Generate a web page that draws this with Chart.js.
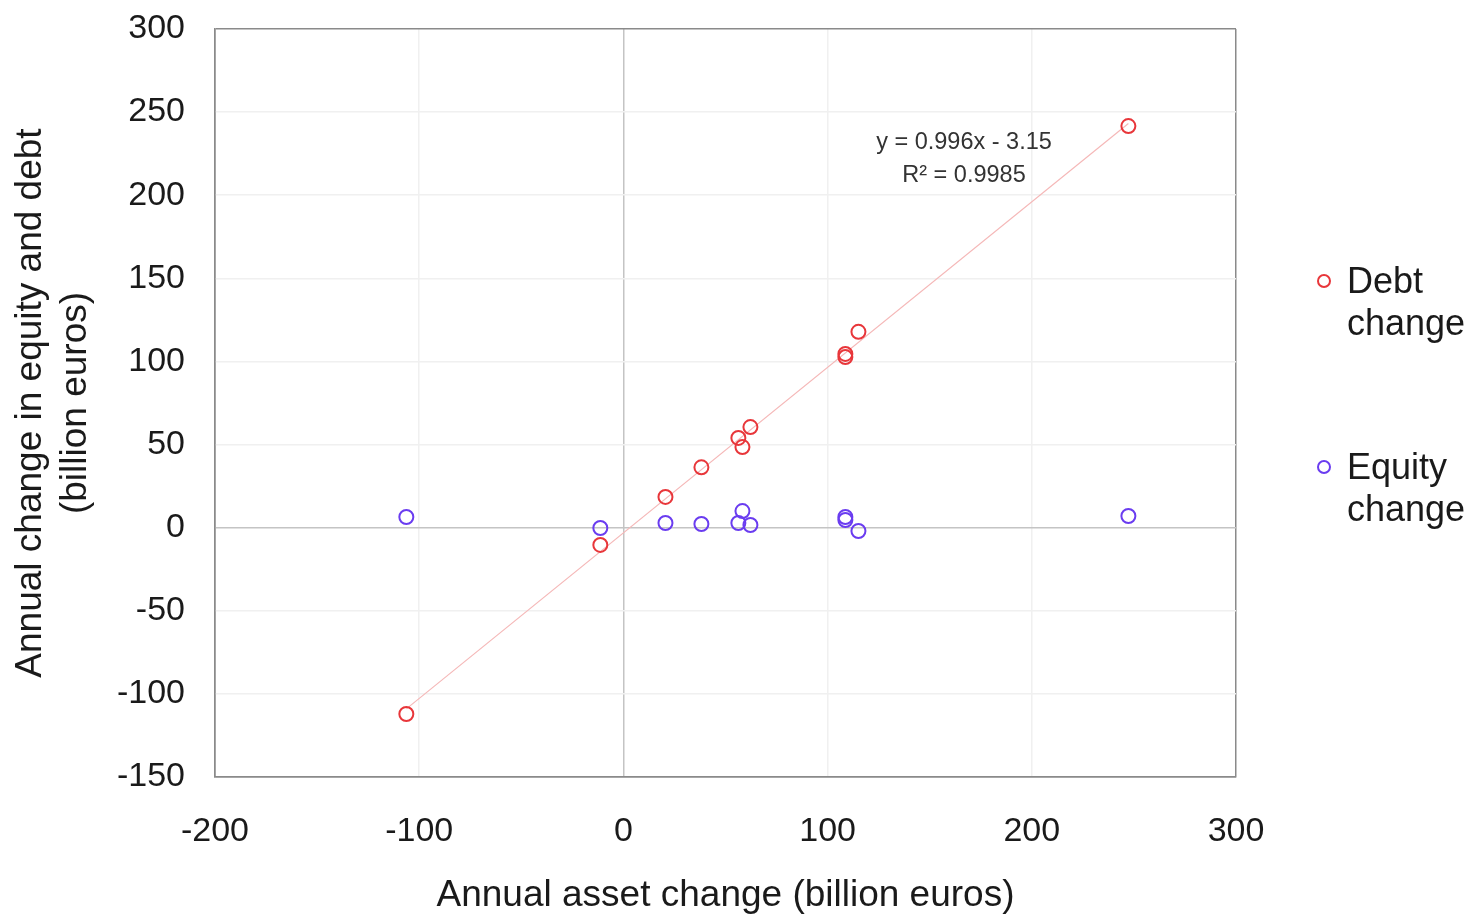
<!DOCTYPE html>
<html>
<head>
<meta charset="utf-8">
<script src="https://cdn.jsdelivr.net/npm/chart.js@4"></script>
<style>
  html, body { margin: 0; padding: 0; background: #fff; }
  #wrap { position: relative; width: 1474px; height: 914px; }
  #legend { position: absolute; left: 1314px; top: 0; font-family: "Liberation Sans", Arial, sans-serif; font-size: 36px; color: #1a1a1a; line-height: 42px; }
  .item { position: absolute; left: 0; width: 160px; }
  .mark { position: absolute; left: 3px; top: 14px; width: 14px; height: 14px; border-radius: 50%; border: 2px solid; box-sizing: border-box; }
  .lbl { position: absolute; left: 33px; top: 0; }
</style>
</head>
<body>
<div id="wrap">
  <canvas id="chart" width="1474" height="914"></canvas>
  <div id="legend">
    <div class="item" style="top:260px"><span class="mark" style="border-color:#e8363a"></span><span class="lbl">Debt<br>change</span></div>
    <div class="item" style="top:446px"><span class="mark" style="border-color:#6a3cf0"></span><span class="lbl">Equity<br>change</span></div>
  </div>
</div>
<script>
// values (billion euros)
const assetChange = [-106.3, -11.3, 20.6, 38.2, 56.3, 58.3, 62.2, 108.7, 108.7, 115.1, 247.3];
const debtChange = [-112.1, -10.4, 18.5, 36.3, 54.0, 48.5, 60.5, 104.5, 102.6, 117.8, 241.6];
const equityChange = [6.4, -0.2, 2.8, 2.2, 2.8, 10.0, 1.6, 6.4, 4.6, -2.0, 7.0];
const trendX = [-106.3, 247.3];
const trendY = [-109.0, 243.2];
const xTicks = [-200, -100, 0, 100, 200, 300];
const yTicks = [-150, -100, -50, 0, 50, 100, 150, 200, 250, 300];

const FONT = '"Liberation Sans", Arial, sans-serif';
const RED = "#e8363a";
const BLUE = "#6a3cf0";

const pts = (xs, ys) => xs.map((x, i) => ({ x, y: ys[i] }));

function gridColor(ctx, ticks) {
  const v = ctx.tick ? ctx.tick.value : null;
  if (v === 0) return "#c4c4c4";
  if (v === ticks[0] || v === ticks[ticks.length - 1]) return "#8a8a8a";
  return "#f0f0f0";
}

// trendline label
const eqLabel = {
  id: "eqLabel",
  afterDatasetsDraw(chart) {
    const c = chart.ctx;
    c.save();
    c.fillStyle = "#333";
    c.font = "23.5px " + FONT;
    c.textAlign = "center";
    c.textBaseline = "middle";
    c.fillText("y = 0.996x - 3.15", 964, 143);
    c.fillText("R\u00b2 = 0.9985", 964, 176);
    c.restore();
  }
};

new Chart(document.getElementById("chart"), {
  type: "scatter",
  data: {
    datasets: [
      {
        label: "Debt change",
        data: pts(assetChange, debtChange),
        borderColor: RED,
        backgroundColor: "rgba(0,0,0,0)",
        pointRadius: 7,
        pointBorderWidth: 2,
        order: 1,
      },
      {
        label: "Equity change",
        data: pts(assetChange, equityChange),
        borderColor: BLUE,
        backgroundColor: "rgba(0,0,0,0)",
        pointRadius: 7,
        pointBorderWidth: 2,
        order: 1,
      },
      {
        type: "line",
        label: "Trend",
        data: pts(trendX, trendY),
        borderColor: "#f5b8b8",
        borderWidth: 1.2,
        pointRadius: 0,
        order: 2,
      },
    ],
  },
  options: {
    responsive: false,
    animation: false,
    layout: { padding: { left: 0, top: 29, right: 238, bottom: 0 } },
    plugins: { legend: { display: false }, tooltip: { enabled: false } },
    scales: {
      x: {
        type: "linear",
        min: -200,
        max: 300,
        afterBuildTicks: s => { s.ticks = xTicks.map(v => ({ value: v })); },
        afterFit: s => { s.height = 137; s.paddingLeft = 0; s.paddingRight = 0; },
        ticks: { color: "#1a1a1a", font: { family: FONT, size: 34 }, padding: 34 },
        grid: { color: c => gridColor(c, xTicks), drawTicks: false, lineWidth: 1.5 },
        border: { color: "#8a8a8a", width: 1.5 },
        title: { display: true, text: "Annual asset change (billion euros)", color: "#1a1a1a", font: { family: FONT, size: 37 }, padding: { top: 0, bottom: -4 } },
      },
      y: {
        type: "linear",
        min: -150,
        max: 300,
        afterBuildTicks: s => { s.ticks = yTicks.map(v => ({ value: v })); },
        afterFit: s => { s.width = 215; s.paddingTop = 0; s.paddingBottom = 0; },
        ticks: { color: "#1a1a1a", font: { family: FONT, size: 34 }, padding: 30 },
        grid: { color: c => gridColor(c, yTicks), drawTicks: false, lineWidth: 1.5 },
        border: { color: "#8a8a8a", width: 1.5 },
        title: { display: true, text: ["Annual change in equity and debt", "(billion euros)"], color: "#1a1a1a", font: { family: FONT, size: 37, lineHeight: 1.22 }, padding: { top: 8 } },
      },
    },
  },
  plugins: [eqLabel],
});
</script>
</body>
</html>
